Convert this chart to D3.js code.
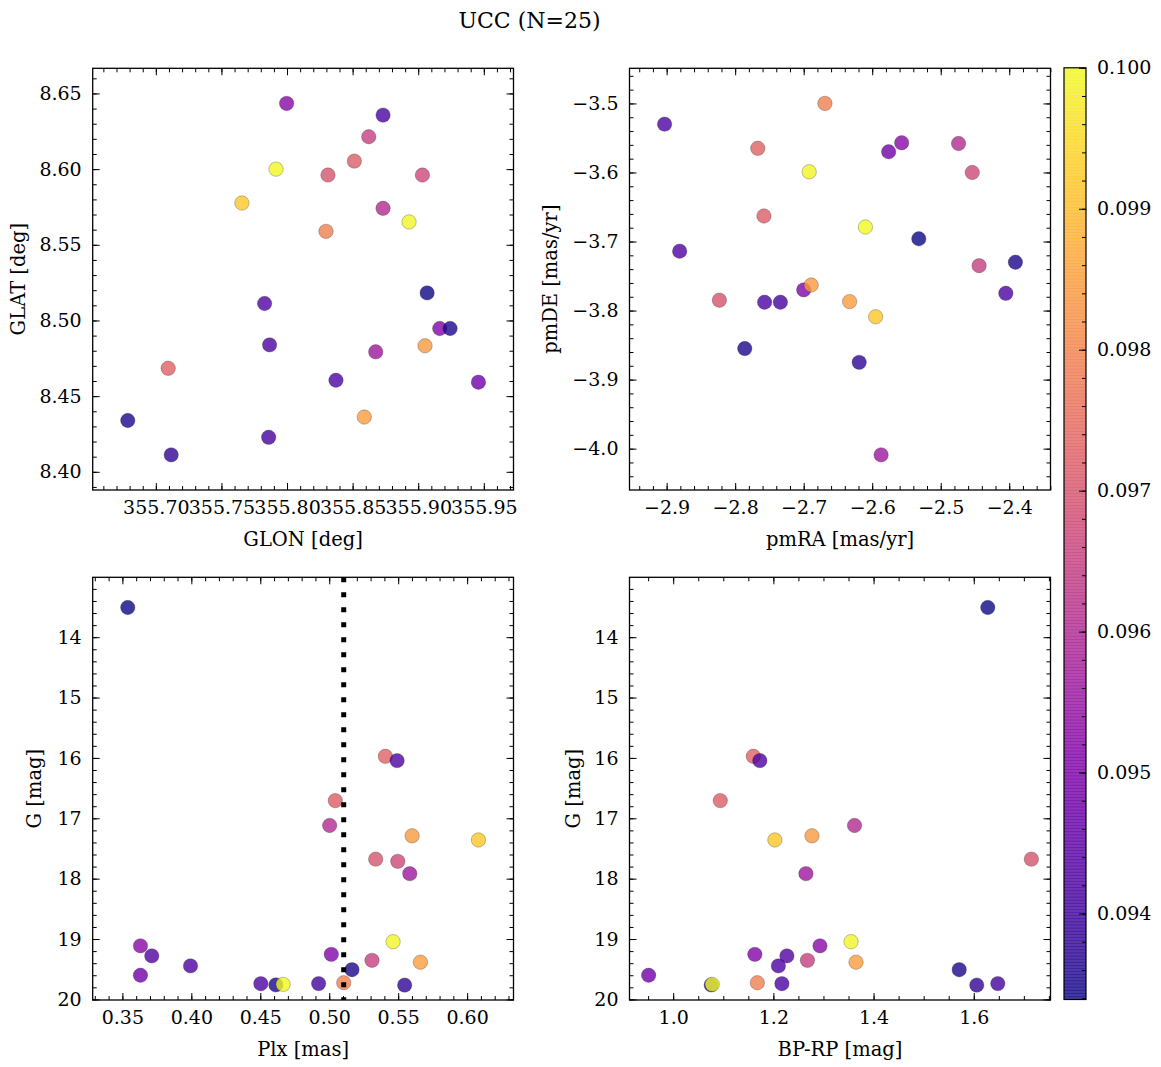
<!DOCTYPE html>
<html><head><meta charset="utf-8">
<script src="https://cdn.jsdelivr.net/npm/d3@7"></script>
<style>
body{margin:0;background:#fff}
svg{display:block}
text{font-family:"DejaVu Serif",serif;fill:#000}
</style>
</head><body>
<svg id="c" width="1161" height="1067"></svg>
<script>
// ---- data (one entry per member star) ----
const glon = [355.9068,355.7094,355.8732,355.8513,355.8732,355.7656,355.8312,355.9032,355.8676,355.8930,355.7997,355.7829,355.9164,355.9052,355.8623,355.8589,355.7867,355.9243,355.9459,355.8373,355.6786,355.7916,355.7860,355.8297,355.7117];
const glat = [8.5182,8.4684,8.6357,8.6053,8.5741,8.5776,8.5961,8.5961,8.4793,8.5651,8.6434,8.5112,8.4947,8.4833,8.6214,8.4362,8.4839,8.4947,8.4592,8.4605,8.4339,8.6000,8.4228,8.5589,8.4112];
const pmra = [-2.532,-2.767,-2.903,-2.758,-2.474,-2.595,-2.823,-2.454,-2.587,-2.692,-2.557,-2.881,-2.700,-2.689,-2.444,-2.633,-2.405,-2.391,-2.576,-2.757,-2.786,-2.610,-2.734,-2.669,-2.619];
const pmde = [-3.696,-3.565,-3.530,-3.663,-3.558,-3.809,-3.785,-3.600,-4.009,-3.599,-3.557,-3.714,-3.770,-3.763,-3.735,-3.787,-3.775,-3.730,-3.570,-3.788,-3.855,-3.679,-3.788,-3.500,-3.875];
const plx  = [0.3539,0.5407,0.5492,0.5044,0.5003,0.6082,0.5337,0.5497,0.5584,0.5463,0.3631,0.3713,0.5015,0.5601,0.5310,0.5661,0.3994,0.5165,0.3631,0.4504,0.4613,0.4666,0.4923,0.5105,0.5547];
const gmag = [13.508,15.973,16.044,16.707,17.119,17.359,17.677,17.713,17.917,19.044,19.113,19.279,19.254,17.290,19.353,19.384,19.445,19.508,19.600,19.740,19.760,19.751,19.738,19.724,19.763];
const bprp = [1.628,1.160,1.173,1.094,1.362,1.203,1.715,null,1.265,1.355,1.293,1.227,1.163,1.277,1.268,1.365,1.210,1.571,0.951,1.217,1.076,1.078,1.648,1.168,1.606];
const prob = [0.09339,0.0973,0.0942,0.0972,0.0960,0.0992,0.0970,0.0967,0.0956,0.0999,0.0952,0.0943,0.0951,0.0984,0.0965,0.0985,0.0942,0.0935,0.0948,0.0942,0.0935,0.1000,0.0941,0.0979,0.0938];
const titleText = "UCC (N=25)";
const cbarTicks = [0.094,0.095,0.096,0.097,0.098,0.099,0.100];

// ---- setup ----
const svg = d3.select("#c");
svg.append("rect").attr("width",1161).attr("height",1067).attr("fill","#fff");
const pExt = d3.extent(prob);
const color = d3.scaleSequential(d3.interpolatePlasma).domain(pExt);
const ALPHA = 0.8;
const FS = 19;
const LFS = 19.5;

function pad(ext, m){ const r = ext[1]-ext[0]; return [ext[0]-m*r, ext[1]+m*r]; }
function ticksIn(dom, step){
  const lo = Math.min(dom[0],dom[1]), hi = Math.max(dom[0],dom[1]);
  return d3.range(Math.ceil(lo/step-1e-6), Math.floor(hi/step+1e-6)+1).map(k=>+(k*step).toFixed(8));
}
const styleAxis = sel => { sel.select(".domain").remove(); sel.selectAll("line").attr("stroke","#000").attr("stroke-width",1);
  sel.selectAll("text").style("font-family","DejaVu Serif").style("font-size",FS+"px").attr("fill","#000"); };

function panel(o){
  const g = svg.append("g");
  const x = d3.scaleLinear().domain(o.xdom).range([o.x0,o.x1]);
  const y = d3.scaleLinear().domain(o.ydom).range([o.y1,o.y0]);
  const xMaj = ticksIn(o.xdom,o.xMajor), xMin = ticksIn(o.xdom,o.xMinor);
  const yMaj = ticksIn(o.ydom,o.yMajor), yMin = ticksIn(o.ydom,o.yMinor);
  // minor ticks
  g.append("g").attr("transform",`translate(0,${o.y1})`).call(d3.axisBottom(x).tickValues(xMin).tickSize(-4).tickFormat("")).call(styleAxis);
  g.append("g").attr("transform",`translate(0,${o.y0})`).call(d3.axisTop(x).tickValues(xMin).tickSize(-4).tickFormat("")).call(styleAxis);
  g.append("g").attr("transform",`translate(${o.x0},0)`).call(d3.axisLeft(y).tickValues(yMin).tickSize(-4).tickFormat("")).call(styleAxis);
  g.append("g").attr("transform",`translate(${o.x1},0)`).call(d3.axisRight(y).tickValues(yMin).tickSize(-4).tickFormat("")).call(styleAxis);
  // major ticks
  g.append("g").attr("transform",`translate(0,${o.y1})`).call(d3.axisBottom(x).tickValues(xMaj).tickSize(-7).tickPadding(11).tickFormat(d3.format(o.xfmt))).call(styleAxis);
  g.append("g").attr("transform",`translate(0,${o.y0})`).call(d3.axisTop(x).tickValues(xMaj).tickSize(-7).tickFormat("")).call(styleAxis);
  g.append("g").attr("transform",`translate(${o.x0},0)`).call(d3.axisLeft(y).tickValues(yMaj).tickSize(-7).tickPadding(11).tickFormat(d3.format(o.yfmt))).call(styleAxis);
  g.append("g").attr("transform",`translate(${o.x1},0)`).call(d3.axisRight(y).tickValues(yMaj).tickSize(-7).tickFormat("")).call(styleAxis);

  // points
  const ids = d3.range(o.xs.length).filter(i => o.xs[i]!=null && o.ys[i]!=null);
  g.append("g").selectAll("circle").data(ids).join("circle")
    .attr("cx", i=>x(o.xs[i])).attr("cy", i=>y(o.ys[i])).attr("r",7.2)
    .attr("fill", i=>color(prob[i])).attr("fill-opacity",ALPHA)
    .attr("stroke","#222").attr("stroke-opacity",0.55).attr("stroke-width",0.5);
  // vertical dotted line (median parallax)
  if (o.vline !== undefined){
    g.append("line").attr("x1",x(o.vline)).attr("x2",x(o.vline)).attr("y1",o.y0).attr("y2",o.y1)
      .attr("stroke","#000").attr("stroke-width",5).attr("stroke-dasharray","5 10");
  }
  // frame
  g.append("rect").attr("x",o.x0).attr("y",o.y0).attr("width",o.x1-o.x0).attr("height",o.y1-o.y0)
    .attr("fill","none").attr("stroke","#000").attr("stroke-width",1.3);
  // labels
  g.append("text").attr("x",(o.x0+o.x1)/2).attr("y",o.y1+56).attr("text-anchor","middle").style("font-size",LFS+"px").text(o.xlabel);
  g.append("text").attr("transform",`translate(${o.ylx},${(o.y0+o.y1)/2}) rotate(-90)`).attr("text-anchor","middle").style("font-size",LFS+"px").text(o.ylabel);
}

const L0=92.7, L1=513.5, R0=629.5, R1=1050.5, T0=68.3, T1=490, B0=577.3, B1=1000;
const gTop = d3.min(gmag) - 0.5;

panel({x0:L0,x1:L1,y0:T0,y1:T1, xdom:pad(d3.extent(glon),0.1), ydom:pad(d3.extent(glat),0.1),
  xs:glon, ys:glat, xMajor:0.05, xMinor:0.01, yMajor:0.05, yMinor:0.01, xfmt:".2f", yfmt:".2f",
  xlabel:"GLON [deg]", ylabel:"GLAT [deg]", ylx:24.5});
panel({x0:R0,x1:R1,y0:T0,y1:T1, xdom:pad(d3.extent(pmra),0.1), ydom:pad(d3.extent(pmde),0.1),
  xs:pmra, ys:pmde, xMajor:0.1, xMinor:0.02, yMajor:0.1, yMinor:0.02, xfmt:".1f", yfmt:".1f",
  xlabel:"pmRA [mas/yr]", ylabel:"pmDE [mas/yr]", ylx:557});
panel({x0:L0,x1:L1,y0:B0,y1:B1, xdom:pad(d3.extent(plx),0.1), ydom:[20.01,gTop],
  xs:plx, ys:gmag, xMajor:0.05, xMinor:0.01, yMajor:1, yMinor:0.2, xfmt:".2f", yfmt:"d",
  xlabel:"Plx [mas]", ylabel:"G [mag]", ylx:41, vline:d3.median(plx)});
panel({x0:R0,x1:R1,y0:B0,y1:B1, xdom:pad(d3.extent(bprp.filter(v=>v!=null)),0.05), ydom:[20.01,gTop],
  xs:bprp, ys:gmag, xMajor:0.2, xMinor:0.05, yMajor:1, yMinor:0.2, xfmt:".1f", yfmt:"d",
  xlabel:"BP-RP [mag]", ylabel:"G [mag]", ylx:580});

// ---- colorbar ----
const C0=1064, C1=1086, CT=67.8, CB=999.5;
const cy = d3.scaleLinear().domain(pExt).range([CB,CT]);
const cb = svg.append("g");
const nSteps = 300;
const steps = d3.range(nSteps).map(k => pExt[0] + (k+0.5)*(pExt[1]-pExt[0])/nSteps);
const dv = (pExt[1]-pExt[0])/nSteps;
cb.selectAll("rect.s").data(steps).join("rect").attr("class","s")
  .attr("x",C0).attr("width",C1-C0)
  .attr("y",v=>cy(v+dv/2)-0.3).attr("height",v=>cy(v-dv/2)-cy(v+dv/2)+0.6)
  .attr("fill",v=>color(v)).attr("fill-opacity",ALPHA);
const cMin = ticksIn(pExt,0.0002);
cb.append("g").attr("transform",`translate(${C1},0)`).call(d3.axisRight(cy).tickValues(cMin).tickSize(-4).tickFormat("")).call(styleAxis);
cb.append("g").attr("transform",`translate(${C1},0)`).call(d3.axisRight(cy).tickValues(cbarTicks).tickSize(-7).tickPadding(11).tickFormat(d3.format(".3f"))).call(styleAxis);
cb.append("rect").attr("x",C0).attr("y",CT).attr("width",C1-C0).attr("height",CB-CT)
  .attr("fill","none").attr("stroke","#000").attr("stroke-width",1.2);

// ---- title ----
svg.append("text").attr("x",529.5).attr("y",27.5).attr("text-anchor","middle").style("font-size","22px").text(titleText);
</script>
</body></html>
